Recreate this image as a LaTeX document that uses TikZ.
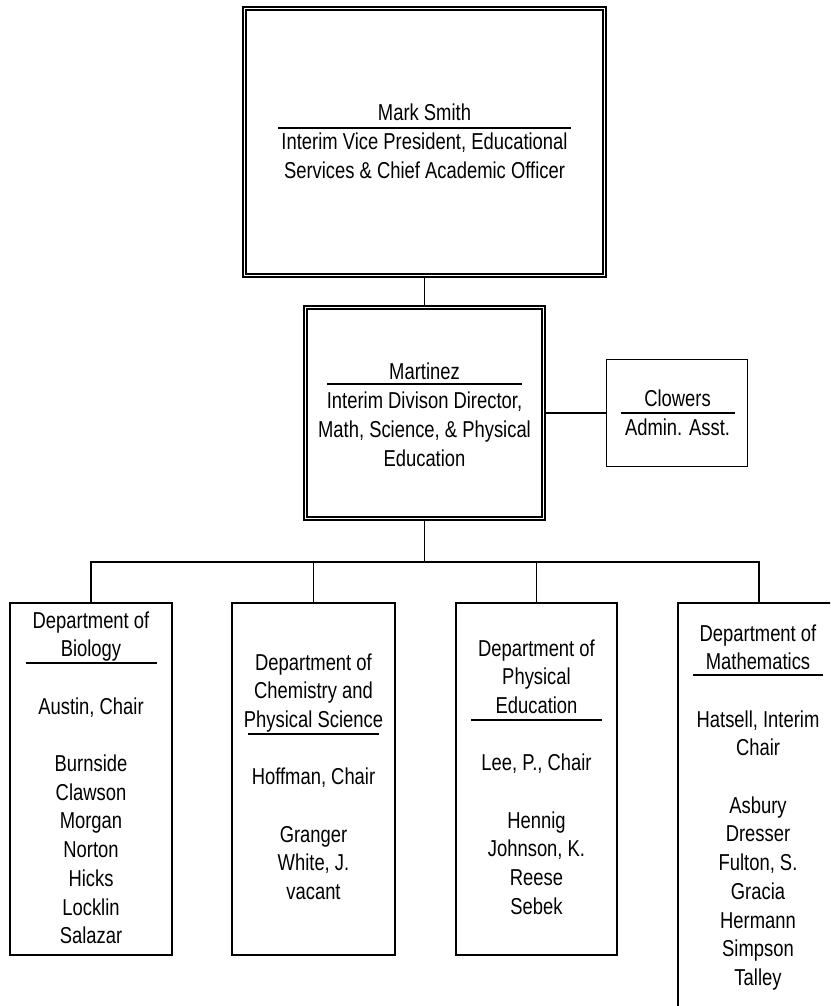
\documentclass[tikz,border=0pt]{standalone}
\usepackage{fontspec}
\setmainfont[FakeStretch=0.8]{Liberation Sans}
\begin{document}
\begin{tikzpicture}[x=1pt,y=-1pt,
  box/.style={draw, line width=1.4pt, inner sep=0pt, outer sep=0pt, fill=white},
  dbox/.style={draw, line width=1.6pt, double, double distance=1.6pt, inner sep=0pt, outer sep=0pt, fill=white},
  txt/.style={inner sep=0pt, outer sep=0pt, align=center, anchor=north, font=\fontsize{23}{28.7}\selectfont},
  conn/.style={line width=1.4pt},
  rulel/.style={line width=1.8pt}]
\path[use as bounding box, fill=white] (0,0) rectangle (830,1006);
\clip (0,0) rectangle (830,1006);

% boxes
\node[dbox, minimum width=360.2pt, minimum height=267.2pt] (top) at (424.5,142) {};
\node[dbox, minimum width=238.2pt, minimum height=211.2pt] (mid) at (424.5,413) {};
\node[box, minimum width=140.5pt, minimum height=106.5pt] (clw) at (677,413) {};
\node[box, minimum width=162pt, minimum height=352pt] (bio) at (91,779) {};
\node[box, minimum width=163pt, minimum height=352pt] (chem) at (313.5,779) {};
\node[box, minimum width=161pt, minimum height=352pt] (pe) at (536.5,779) {};
\node[box, minimum width=162pt, minimum height=417pt] (math) at (759,811.5) {};
\coordinate (bus) at (424.5,562);

% connectors
\draw[conn, shorten <=2.4pt, shorten >=2.4pt] (top.south) -- (mid.north);
\draw[conn, shorten <=2.4pt] (mid.east) -- (clw.west);
\draw[conn, shorten <=2.4pt] (mid.south) -- (bus);
\draw[conn] (bio.north) |- (bus) -| (math.north);
\draw[conn] (chem.north) -- (chem.north |- bus);
\draw[conn] (pe.north) -- (pe.north |- bus);

% texts
\node[txt] (ttop) at (424.5,100.9) {\strut Mark Smith\\Interim Vice President, Educational\\Services \& Chief Academic Officer};
\draw[rulel] (278,128) -- (571,128);

\node[txt] (tmid) at (424.5,359.9) {\strut Martinez\\Interim Divison Director,\\Math, Science, \& Physical\\Education};
\draw[rulel] (327,384) -- (522,384);

\node[txt] (tclw) at (677.5,386.9) {\strut Clowers\\Admin. Asst.};
\draw[rulel] (621,413) -- (735,413);

\node[txt] (tbio) at (91,607.9) {\strut Department of\\Biology\\~\\Austin, Chair\\~\\Burnside\\Clawson\\Morgan\\Norton\\Hicks\\Locklin\\Salazar};
\draw[rulel] (26,663) -- (157,663);

\node[txt] (tchem) at (313.5,649.9) {\strut Department of\\Chemistry and\\Physical Science\\~\\Hoffman, Chair\\~\\Granger\\White, J.\\vacant};
\draw[rulel] (248,734) -- (379,734);

\node[txt] (tpe) at (536.5,635.9) {\strut Department of\\Physical\\Education\\~\\Lee, P., Chair\\~\\Hennig\\Johnson, K.\\Reese\\Sebek};
\draw[rulel] (471,720) -- (602,720);

\node[txt] (tmath) at (758,620.9) {\strut Department of\\Mathematics\\~\\Hatsell, Interim\\Chair\\~\\Asbury\\Dresser\\Fulton, S.\\Gracia\\Hermann\\Simpson\\Talley};
\draw[rulel] (693,675) -- (823,675);
\end{tikzpicture}
\end{document}
